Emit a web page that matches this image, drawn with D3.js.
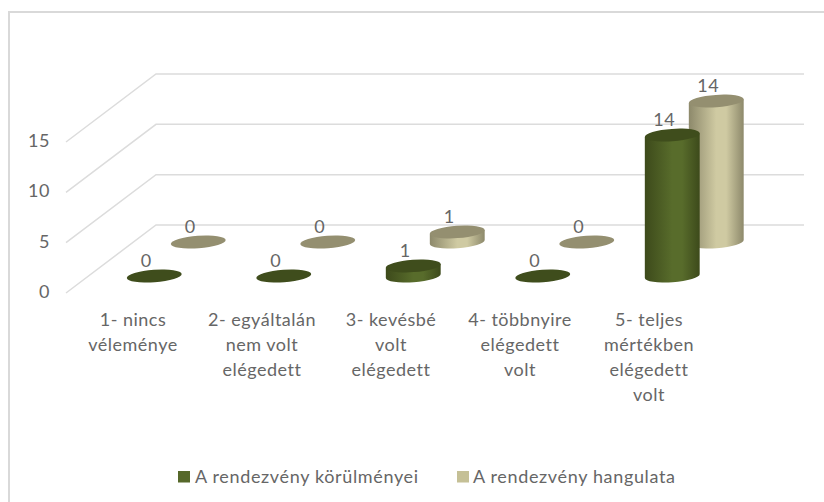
<!DOCTYPE html>
<html><head><meta charset="utf-8">
<script src="https://cdn.jsdelivr.net/npm/d3@7"></script>
<style>html,body{margin:0;padding:0;background:#fff}svg{display:block}text{font-family:Lato,"Open Sans",sans-serif;fill:#666;letter-spacing:.5px}</style>
</head><body><script>
const categories = ["1- nincs|véleménye","2- egyáltalán|nem volt|elégedett","3- kevésbé|volt|elégedett","4- többnyire|elégedett|volt","5- teljes|mértékben|elégedett|volt"];
const seriesNames = ["A rendezvény körülményei","A rendezvény hangulata"];
const seriesA = [0,0,1,0,14];
const seriesB = [0,0,1,0,14];
const yTicks = [0,5,10,15];
const seriesColors = [
  {edge:"#3d4a1b",mid:"#586c2b",top:"#3f4d1c",key:"#56682a"},
  {edge:"#8d896b",mid:"#cfcaa2",top:"#948f70",key:"#c5c096"}
];
const W=824,H=502;
const svg=d3.select("body").append("svg").attr("width",W).attr("height",H);
const defs=svg.append("defs");
seriesColors.forEach((c,i)=>{
  const g=defs.append("linearGradient").attr("id","g"+i);
  [[0,c.edge],[.5,c.mid],[.68,c.mid],[1,c.edge]].forEach(s=>g.append("stop").attr("offset",s[0]).attr("stop-color",s[1]));
});
svg.append("path").attr("d","M9,502V12H824").attr("fill","none").attr("stroke","#d9d9d9").attr("stroke-width",2);

const y=d3.scaleLinear().domain([0,15]).range([293,142]);
const depth={dx:90,dy:-68};
const xEnd=804;
const grid=svg.append("g").attr("fill","none").attr("stroke","#dcdcdc").attr("stroke-width",1.5);
yTicks.forEach(t=>{
  grid.append("path").attr("d",d3.line()([[66,y(t)],[66+depth.dx,y(t)+depth.dy],[xEnd,y(t)+depth.dy]]));
});
svg.append("g").selectAll("text").data(yTicks).join("text")
  .attr("x",50).attr("y",t=>y(t)+5).attr("text-anchor","end").attr("font-size",18).text(t=>t);

const x=d3.scaleBand().domain(d3.range(categories.length)).range([89.5,737]);
const labelX=d3.scaleBand().domain(d3.range(categories.length)).range([68.5,713.5]);
const offsets=[{dx:0,base:-17},{dx:44,base:-51}];
const rx=27.5,ry=6.2,rot=-4;
const sin=Math.sin(rot*Math.PI/180),cos=Math.cos(rot*Math.PI/180);
const h=d3.scaleLinear().domain([0,15]).range([0,151]);
const cyl=svg.append("g");
// The far series first, then the near one, so that the near bar overlaps it.
[1,0].forEach(s=>{
  const vals=s?seriesB:seriesA, o=offsets[s];
  vals.forEach((v,i)=>{
    const cx=x(i)+x.bandwidth()/2+o.dx, by=y(0)+o.base, ty=by-h(v);
    const ex=rx*cos, ey=rx*sin;
    const g=cyl.append("g");
    if(v>0){
      g.append("path").attr("fill",`url(#g${s})`).attr("d",
        `M${cx-ex},${ty-ey}L${cx-ex},${by-ey}A${rx},${ry} ${rot} 0 0 ${cx+ex},${by+ey}L${cx+ex},${ty+ey}Z`);
    }
    g.append("ellipse").attr("cx",cx).attr("cy",ty).attr("rx",rx).attr("ry",ry)
      .attr("transform",`rotate(${rot} ${cx} ${ty})`).attr("fill",seriesColors[s].top);
    g.append("text").attr("x",cx-8).attr("y",ty-9).attr("text-anchor","middle").attr("font-size",18).text(v);
  });
});
const lab=svg.append("g");
categories.forEach((c,i)=>{
  const t=lab.append("text").attr("text-anchor","middle").attr("font-size",18);
  c.split("|").forEach((line,k)=>t.append("tspan").attr("x",labelX(i)+labelX.bandwidth()/2).attr("y",325.5+k*25.3).text(line));
});
const leg=svg.append("g");
[[178,195],[457,473]].forEach((p,i)=>{
  leg.append("rect").attr("x",p[0]).attr("y",471).attr("width",12).attr("height",11.5).attr("fill",seriesColors[i].key);
  leg.append("text").attr("x",p[1]).attr("y",482.5).attr("font-size",18).style("letter-spacing","0.65px").text(seriesNames[i]);
});
</script></body></html>
